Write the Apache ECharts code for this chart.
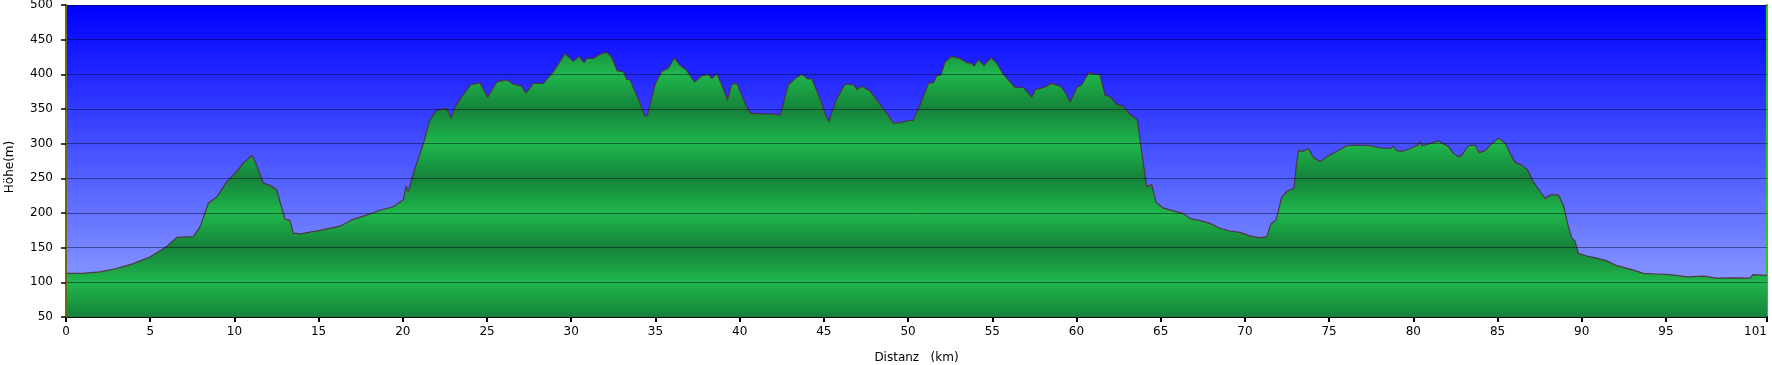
<!DOCTYPE html>
<html>
<head>
<meta charset="utf-8">
<script src="https://cdn.jsdelivr.net/npm/echarts@6/dist/echarts.min.js"></script>
<style>
html,body{margin:0;padding:0;background:#fff;}
#chart{width:1772px;height:365px;}
</style>
</head>
<body>
<div id="chart"></div>
<script>
// Distance (km)
const distance = [
  0, 1.0, 2.0, 3.0, 4.0, 5.0, 6.0, 6.6, 7.56, 7.96, 8.45, 8.95, 9.54, 10.14, 10.53, 11.06, 11.32, 11.72, 12.11, 12.5,
  13.0, 13.3, 13.5, 13.9, 15.08, 16.27, 16.96, 17.85, 18.65, 19.43, 20.03, 20.19, 20.33, 20.62, 21.22, 21.6, 22.0, 22.6, 22.86, 23.1,
  23.5, 24.03, 24.58, 25.04, 25.57, 26.17, 26.56, 27.06, 27.3, 27.75, 28.34, 28.94, 29.63, 30.12, 30.48, 30.76, 30.92, 31.31, 31.71, 32.1,
  32.4, 32.73, 33.09, 33.29, 33.49, 33.88, 34.18, 34.38, 34.52, 34.97, 35.37, 35.77, 36.12, 36.46, 36.85, 37.31, 37.75, 38.14, 38.34, 38.64,
  39.03, 39.27, 39.53, 39.83, 40.12, 40.42, 40.66, 41.41, 42.0, 42.4, 42.89, 43.29, 43.69, 44.08, 44.28, 44.77, 45.07, 45.29, 45.76, 46.26,
  46.75, 46.99, 47.25, 47.74, 48.14, 48.73, 49.12, 49.52, 49.92, 50.31, 50.71, 51.21, 51.5, 51.7, 51.94, 52.2, 52.59, 53.09, 53.48, 53.78,
  53.92, 54.17, 54.51, 54.93, 55.27, 55.66, 56.36, 56.85, 57.35, 57.54, 58.04, 58.53, 59.03, 59.32, 59.62, 60.02, 60.31, 60.71, 61.0, 61.4,
  61.7, 61.99, 62.39, 62.78, 63.18, 63.48, 63.62, 63.88, 64.17, 64.47, 64.73, 65.16, 65.76, 66.35, 66.75, 67.34, 67.93, 68.53, 69.12, 69.71,
  70.31, 70.9, 71.3, 71.54, 71.85, 72.19, 72.49, 72.92, 73.04, 73.18, 73.47, 73.77, 74.03, 74.47, 74.86, 75.46, 76.05, 76.64, 77.43, 78.03,
  78.62, 78.82, 79.02, 79.37, 79.81, 80.3, 80.4, 80.5, 80.99, 81.49, 81.78, 82.08, 82.38, 82.68, 82.87, 83.27, 83.67, 83.92, 84.26, 84.66,
  85.05, 85.45, 85.75, 86.05, 86.44, 86.78, 87.13, 87.53, 87.83, 88.12, 88.62, 88.91, 89.21, 89.41, 89.61, 89.8, 90.3, 90.89, 91.49, 92.08,
  92.87, 93.67, 94.46, 95.25, 96.24, 97.23, 98.02, 99.01, 100.0, 100.16, 101.0
];
// Elevation (m)
const elevation = [
  113, 113, 115, 120, 127, 137, 152, 165, 166, 180, 214, 223, 245, 260, 272, 283, 269, 243, 240, 234,
  191, 189, 171, 170, 175, 181, 190, 197, 204, 209, 219, 239, 231, 257, 300, 334, 348, 351, 337, 353,
  368, 385, 388, 367, 389, 392, 386, 383, 373, 387, 387, 404, 430, 419, 426, 417, 423, 423, 429, 432,
  425, 405, 404, 393, 392, 370, 353, 340, 341, 385, 404, 409, 424, 413, 406, 389, 398, 400, 394, 401,
  380, 363, 386, 387, 370, 353, 344, 343, 343, 341, 385, 394, 400, 393, 394, 365, 344, 332, 365, 386,
  385, 378, 383, 376, 363, 344, 330, 330, 333, 334, 356, 387, 388, 398, 399, 418, 426, 423, 417, 416,
  412, 421, 413, 424, 416, 400, 381, 381, 367, 378, 381, 387, 383, 375, 360, 381, 385, 402, 401, 399,
  370, 368, 357, 354, 342, 337, 334, 286, 238, 241, 215, 207, 203, 199, 192, 189, 185, 178, 174, 172,
  167, 164, 166, 184, 190, 223, 231, 236, 267, 290, 289, 293, 281, 274, 281, 289, 297, 298, 297, 294,
  293, 296, 290, 289, 293, 298, 304, 297, 300, 304, 300, 296, 286, 281, 283, 297, 298, 287, 290, 300,
  308, 301, 286, 273, 269, 262, 245, 231, 221, 226, 226, 211, 180, 164, 159, 142, 138, 135, 131, 124,
  119, 113, 112, 111, 108, 109, 106, 106.5, 106, 111, 110
];
// Tick labels
const xTicks = [0, 5, 10, 15, 20, 25, 30, 35, 40, 45, 50, 55, 60, 65, 70, 75, 80, 85, 90, 95, 101];
const yTicks = [50, 100, 150, 200, 250, 300, 350, 400, 450, 500];
const xAxisTitle = 'Distanz   (km)';
const yAxisTitle = 'Höhe(m)';

const W = 1772, H = 365;
const gridTop = 5, gridBottom = 48, gridLeft = 66, gridRight = 5;
const yMin = yTicks[0], yMax = yTicks[yTicks.length - 1];
const plotTop = gridTop, plotBottom = H - gridBottom;

// Banded green fill: bright at multiples of 100, dark between
const bright = '#1fb74c', dark = '#15823a';
const greenStops = yTicks.slice().reverse().map(v => ({
  offset: (yMax - v) / (yMax - yMin),
  color: (v % 100 === 0) ? bright : dark
}));

const data = distance.map((d, i) => [d, elevation[i]]);
const font = 'DejaVu Sans, Verdana, sans-serif';

const chart = echarts.init(document.getElementById('chart'), null, {renderer: 'canvas'});
chart.setOption({
  animation: false,
  backgroundColor: '#ffffff',
  grid: {
    left: gridLeft, right: gridRight, top: gridTop, bottom: gridBottom,
    containLabel: false,
    outerBoundsMode: 'none',
    show: true,
    borderWidth: 0,
    backgroundColor: new echarts.graphic.LinearGradient(0, 0, 0, 1, [
      {offset: 0, color: '#0000ff'},
      {offset: 0.5, color: '#4b58ff'},
      {offset: 1, color: '#97a7ff'}
    ])
  },
  xAxis: {
    type: 'value',
    min: 0, max: 101,
    name: xAxisTitle,
    nameLocation: 'middle',
    nameGap: 35,
    nameTextStyle: {fontFamily: font, fontSize: 12, color: '#000'},
    axisLine: {show: true, onZero: false, lineStyle: {color: '#000', width: 2}},
    axisTick: {show: true, length: 5, customValues: xTicks, lineStyle: {color: '#000', width: 2}},
    axisLabel: {customValues: xTicks, fontFamily: font, fontSize: 12, color: '#000', margin: 9, alignMaxLabel: 'right'},
    splitLine: {show: false}
  },
  yAxis: [{
    type: 'value',
    min: yMin, max: yMax, interval: 50,
    z: 10,
    name: yAxisTitle,
    nameLocation: 'middle',
    nameGap: 50,
    nameTextStyle: {fontFamily: font, fontSize: 12, color: '#000', padding: [0, 0, 0, -12]},
    axisLine: {show: true, lineStyle: {color: '#6e6a10', width: 2}},
    axisTick: {show: true, length: 5, lineStyle: {color: '#000', width: 1.5}},
    axisLabel: {fontFamily: font, fontSize: 12, color: '#000', margin: 13},
    splitLine: {show: true, lineStyle: {color: 'rgba(0,0,30,0.45)', width: 1}}
  }, {
    type: 'value',
    position: 'right',
    min: yMin, max: yMax,
    axisLine: {show: true, lineStyle: {color: '#22cc22', width: 2}},
    axisTick: {show: false},
    axisLabel: {show: false},
    splitLine: {show: false}
  }],
  series: [{
    type: 'line',
    data: data,
    showSymbol: false,
    smooth: false,
    z: 2,
    lineStyle: {color: 'rgba(80,45,60,0.9)', width: 1.2},
    areaStyle: {
      origin: 'start',
      opacity: 1,
      color: new echarts.graphic.LinearGradient(0, plotTop, 0, plotBottom, greenStops, true)
    }
  }]
});
</script>
</body>
</html>
